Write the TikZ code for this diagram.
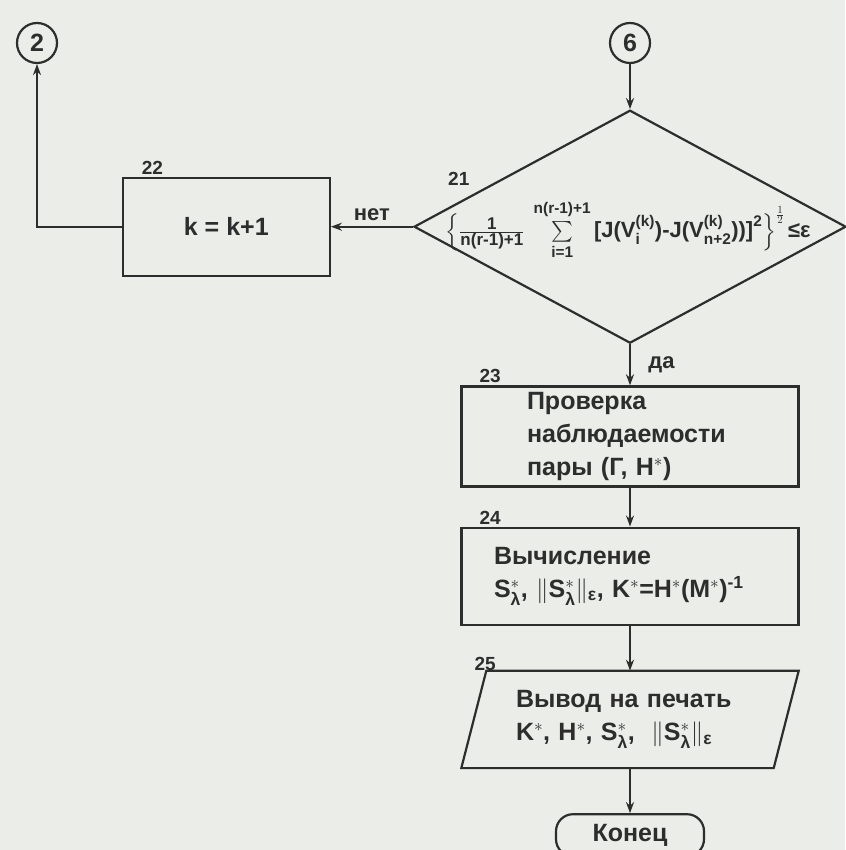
\documentclass[tikz,border=0pt]{standalone}
\usepackage{amsmath}
\usepackage{fontspec}
\setmainfont{Liberation Sans}
\usetikzlibrary{shapes.geometric,arrows.meta,positioning}
\definecolor{fcink}{RGB}{45,45,45}
\definecolor{fcpaper}{RGB}{234,237,232}
\newcommand{\tx}[1]{\text{#1}}
\newcommand{\fx}[1]{\mbox{\fontsize{17}{18}\selectfont\bfseries #1}}
\newcommand{\slam}{$^{*}_{\text{λ}}$}

\begin{document}
\begin{tikzpicture}[x=1pt, y=-1pt,
  every node/.style={text=fcink},
  proc/.style={rectangle, draw=fcink, line width=2.2pt, minimum width=337pt,
               font=\fontsize{25}{33}\selectfont\bfseries, align=left},
  dec/.style={diamond, draw=fcink, line width=2.2pt, minimum width=432pt,
              minimum height=233pt, inner sep=0pt},
  io/.style={rectangle, minimum width=337pt, minimum height=97pt,
             font=\fontsize{25}{33}\selectfont\bfseries, align=left},
  ioline/.style={draw=fcink, line width=2.2pt, line join=miter},
  term/.style={rectangle, rounded corners=17pt, draw=fcink, line width=2.2pt,
               minimum width=148pt, minimum height=42pt,
               font=\fontsize{25}{28}\selectfont\bfseries},
  conn/.style={circle, draw=fcink, line width=2.2pt, minimum size=40pt, inner sep=0pt,
               font=\fontsize{25}{28}\selectfont\bfseries},
  num/.style={font=\fontsize{19}{22}\selectfont\bfseries, inner sep=1pt, anchor=south west},
  lbl/.style={font=\fontsize{22}{26}\selectfont\bfseries},
  arr/.style={-{Stealth[length=11pt, width=8pt]}, line width=2.2pt, fcink},
  node distance=42pt]

\useasboundingbox (0,0) rectangle (845,850);
\fill[fcpaper] (0,0) rectangle (845,850);

\node[conn] (c6) at (630,43) {6};
\node[conn] (c2) at (37,43) {2};
\node[dec, below=45pt of c6] (d21) {};
\node[font=\fontsize{22}{24}\selectfont\bfseries, inner sep=0pt] (f21) at ([xshift=-2pt, yshift=-3pt]d21.center)
  {$\Bigl\{\frac{\fx{1}}{\fx{n(r-1)+1}}\;\sum\limits_{\tx{i=1}}^{\tx{n(r-1)+1}\rule[-6pt]{0pt}{1pt}}
   \tx{[J(V}_{\tx{i}}^{\tx{(k)}}\tx{)-J(V}_{\tx{n+2}}^{\tx{(k)}}\tx{))]}^{\tx{2}}
   \Bigr\}^{\frac{1}{2}}\,\tx{≤ε}$};
\node[proc, left=82pt of d21, minimum width=207pt, minimum height=98pt] (b22) {k = k+1};
\node[proc, below=41pt of d21, minimum height=100pt, text width=206pt] (b23)
  {Проверка\\наблюдаемости\\пары (Г, H$^{*}$)};
\node[proc, below=39pt of b23, minimum height=97pt, text width=272pt] (b24)
  {Вычисление\\ S\slam, $\|$S\slam$\|_{\text{ε}}$, K$^{*}$=H$^{*}$(M$^{*}$)$^{\text{-1}}$};
\node[io, below=45pt of b24, text width=228pt] (p25)
  {Вывод на печать\\K$^{*}$, H$^{*}$, S\slam, \ $\|$S\slam$\|_{\text{ε}}$};
\draw[ioline] ([xshift=25pt]p25.north west) -- (p25.north east)
  -- ([xshift=-25pt]p25.south east) -- (p25.south west) -- cycle;
\node[term, below=45pt of p25] (e) {Конец};

% block numbers
\node[num] (n21) at ([xshift=-183pt, yshift=40pt]d21.center) {21};
\node[num] (n22) at ([xshift=19pt, yshift=1pt]b22.north west) {22};
\node[num] (n23) at ([xshift=18pt, yshift=1pt]b23.north west) {23};
\node[num] (n24) at ([xshift=18pt, yshift=1pt]b24.north west) {24};
\node[num] (n25) at ([xshift=12pt, yshift=-1pt]p25.north west) {25};

\draw[arr] (c6) -- (d21.north);
\draw[arr] (d21.west) -- node[lbl, above=2pt] {нет} (b22.east);
\draw[arr] (b22.west) -| (c2.south);
\draw[arr] (d21.south) -- node[lbl, right=14pt] {да} (b23.north);
\draw[arr] (b23) -- (b24);
\draw[arr] (b24) -- (p25);
\draw[arr] (p25) -- (e);
\end{tikzpicture}
\end{document}
